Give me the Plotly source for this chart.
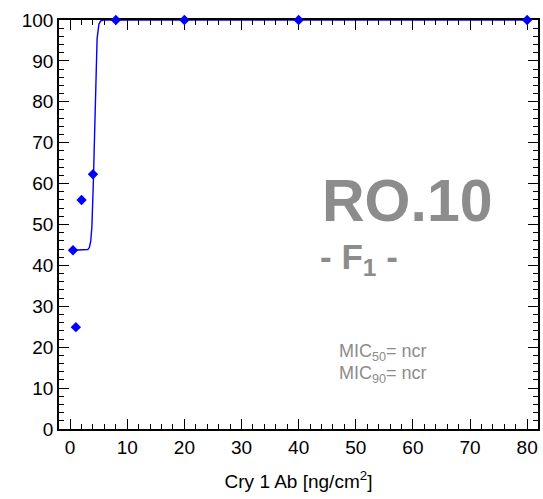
import numpy as np
import plotly.graph_objects as go

# Data
conc = [0.5, 1, 2, 4, 8, 20, 40, 80]
response = [43.7, 24.9, 56.0, 62.3, 100, 100, 100, 100]

# Fitted dose-response curve parameters (logistic fit shown in the chart)
fit_bottom = 43.7
fit_top = 100.0
fit_x50 = 4.24
fit_scale = 0.2

xfit = np.linspace(0.5, 80, 4000)
yfit = fit_bottom + (fit_top - fit_bottom) / (1 + np.exp(-(xfit - fit_x50) / fit_scale))

x_ticks = list(range(0, 81, 10))
y_ticks = list(range(0, 101, 10))
x_range = [-1.95, 81.9]
y_range = [0, 100]

BLUE = "#0000ff"
GRAY = "#8c8c8c"
FONT = "Liberation Sans, Arial, sans-serif"

W, H = 543, 499
ml, mr, mt, mb = 59, 5, 20, 70
pw, ph = W - ml - mr, H - mt - mb

def px(x):
    return (x - ml) / pw

def py(y):
    return 1 - (y - mt) / ph

fig = go.Figure()
fig.add_trace(go.Scatter(x=xfit, y=yfit, mode="lines",
                         line=dict(color=BLUE, width=1.4),
                         cliponaxis=False, hoverinfo="skip"))
fig.add_trace(go.Scatter(x=conc, y=response, mode="markers",
                         marker=dict(symbol="diamond", size=8, color=BLUE),
                         cliponaxis=False))

axis_common = dict(
    showline=True, linecolor="black", linewidth=1.5,
    ticks="inside", ticklen=10, tickwidth=1.3, tickcolor="black",
    showgrid=False, zeroline=False, layer="below traces",
    tickfont=dict(family=FONT, size=19, color="black"),
)
minor_common = dict(ticks="inside", dtick=2, tick0=0, ticklen=5,
                    tickwidth=1.2, tickcolor="black")

fig.update_layout(
    xaxis=dict(range=x_range, tickvals=x_ticks, minor=minor_common,
               title=dict(text="Cry 1 Ab [ng/cm<sup>2</sup>]",
                          font=dict(family=FONT, size=19, color="black"),
                          standoff=18),
               **axis_common),
    yaxis=dict(range=y_range, tickvals=y_ticks, minor=minor_common, **axis_common),
    xaxis2=dict(range=x_range, tickvals=x_ticks, minor=minor_common, overlaying="x",
                side="top", showticklabels=False, anchor="y", **axis_common),
    yaxis2=dict(range=y_range, tickvals=y_ticks, minor=minor_common, overlaying="y",
                side="right", showticklabels=False, anchor="x", **axis_common),
)
# invisible trace to activate secondary axes
fig.add_trace(go.Scatter(x=[x_range[0]], y=[y_range[0]], xaxis="x2", yaxis="y2",
                         mode="markers", marker=dict(opacity=0), hoverinfo="skip"))

fig.add_annotation(x=px(407), y=py(201), xref="paper", yref="paper",
                   xanchor="center", yanchor="middle", text="<b>RO.10</b>",
                   showarrow=False, font=dict(family=FONT, size=59, color=GRAY))
fig.add_annotation(x=px(318), y=py(259), xref="paper", yref="paper",
                   xanchor="left", yanchor="middle", text="<b>- F<sub>1</sub> -</b>",
                   showarrow=False, font=dict(family=FONT, size=35, color=GRAY))
fig.add_annotation(x=px(337), y=py(352), xref="paper", yref="paper",
                   xanchor="left", yanchor="middle", text="MIC<sub>50</sub>= ncr",
                   showarrow=False, font=dict(family=FONT, size=18, color=GRAY))
fig.add_annotation(x=px(337), y=py(374), xref="paper", yref="paper",
                   xanchor="left", yanchor="middle", text="MIC<sub>90</sub>= ncr",
                   showarrow=False, font=dict(family=FONT, size=18, color=GRAY))

fig.update_layout(width=W, height=H, margin=dict(l=ml, r=mr, t=mt, b=mb),
                  plot_bgcolor="white", paper_bgcolor="white", showlegend=False)

fig.write_html("out.html")
